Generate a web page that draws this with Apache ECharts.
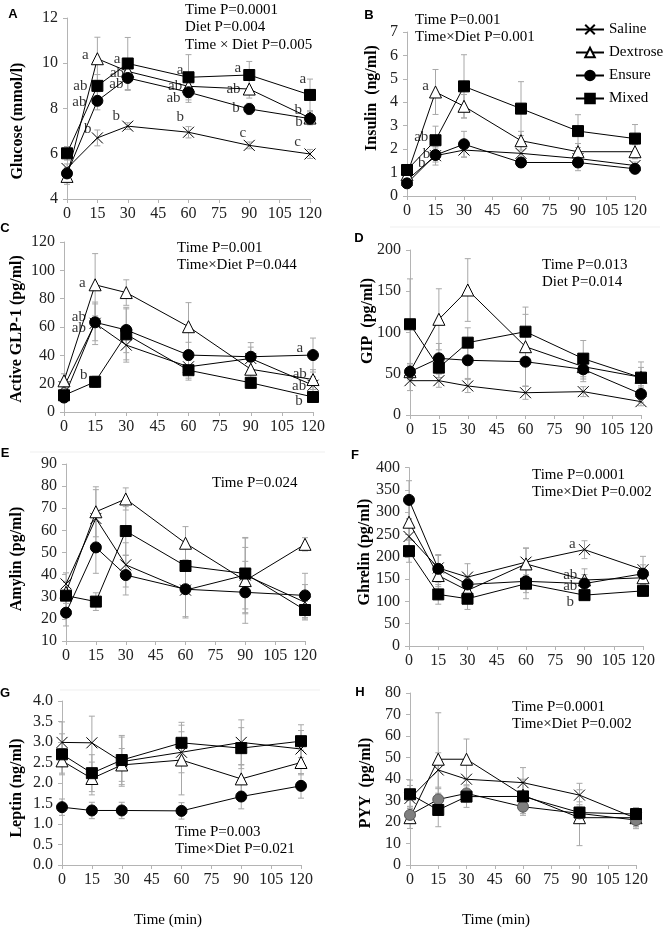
<!DOCTYPE html>
<html><head><meta charset="utf-8">
<script src="https://cdn.jsdelivr.net/npm/echarts@6/dist/echarts.min.js"></script>
<style>html,body{margin:0;padding:0;background:#fff}#c{width:666px;height:931px}</style>
</head><body><div id="c"></div>
<script>
// ---------------- DATA ----------------
const times = [0, 15, 30, 60, 90, 120];
const groups = ['Saline', 'Dextrose', 'Ensure', 'Mixed'];

// A Glucose (mmol/l)
const glucoseSaline   = [5.35, 6.7, 7.22, 6.95, 6.37, 5.99];
const glucoseDextrose = [5.0, 10.2, 9.64, 8.98, 8.86, 7.58];
const glucoseEnsure   = [5.13, 8.34, 9.35, 8.72, 7.98, 7.55];
const glucoseMixed    = [6.02, 9.0, 9.99, 9.38, 9.48, 8.6];
const glucoseErrSaline   = [0.2, 0.35, 0.15, 0.25, 0.15, 0.2];
const glucoseErrDextrose = [0.35, 0.95, 0.4, 0.5, 0.4, 0.3];
const glucoseErrEnsure   = [0.25, 0.4, 0.55, 0.45, 0.25, 0.25];
const glucoseErrMixed    = [0.3, 0.5, 1.15, 1.0, 0.6, 0.7];
const glucoseLetters = [[9.0,10.38,'a'],[6.6,9.0,'ab'],[6.1,8.29,'ab'],[10.2,7.09,'b'],
  [24.7,10.19,'a'],[24.7,9.55,'ab'],[24.4,9.1,'ab'],[24.3,7.65,'b'],
  [55.9,9.72,'a'],[53.4,9.01,'ab'],[52.6,8.45,'ab'],[55.9,7.63,'b'],
  [84.3,9.79,'a'],[82.2,8.86,'ab'],[83.5,8.02,'b'],[86.8,6.92,'c'],
  [116.4,9.3,'a'],[114.2,7.95,'b'],[114.6,7.39,'b'],[113.9,6.5,'c']];

// B Insulin (ng/ml)
const insulinSaline   = [0.68, 1.72, 1.96, 1.82, 1.6, 1.3];
const insulinDextrose = [0.9, 4.44, 3.83, 2.36, 1.89, 1.89];
const insulinEnsure   = [0.54, 1.75, 2.21, 1.43, 1.43, 1.16];
const insulinMixed    = [1.11, 2.38, 4.68, 3.73, 2.77, 2.45];
const insulinErrSaline   = [0.15, 0.4, 0.3, 0.3, 0.2, 0.15];
const insulinErrDextrose = [0.2, 0.96, 0.5, 0.4, 0.35, 0.3];
const insulinErrEnsure   = [0.1, 0.3, 0.55, 0.2, 0.35, 0.15];
const insulinErrMixed    = [0.2, 0.6, 1.35, 1.15, 0.7, 0.6];
const insulinLetters = [[9.8,4.68,'a'],[7.5,2.53,'ab'],[10.2,1.77,'b'],[7.8,1.4,'b']];

// C Active GLP-1 (pg/ml)
const glpSaline   = [18, 62.6, 47.2, 31.9, 37.8, 18.9];
const glpDextrose = [22, 89.8, 84.3, 60.2, 30.2, 22.9];
const glpEnsure   = [10.2, 63.3, 57.9, 40.2, 39, 40.2];
const glpMixed    = [11.8, 21.3, 54.8, 29.5, 20.6, 10.6];
const glpErrSaline   = [5, 15, 12, 8, 8, 6];
const glpErrDextrose = [5, 22, 9, 17, 6, 7];
const glpErrEnsure   = [3, 13, 16, 9, 10, 12];
const glpErrMixed    = [3, 4, 18, 7, 4, 3];
const glpLetters = [[8.8,91,'a'],[7.2,67.3,'ab'],[7.2,59.5,'ab'],[9.5,26,'b'],
  [113.6,45.4,'a'],[113.6,26.5,'ab'],[113.3,18.4,'ab'],[113.3,7.6,'b']];

// D GIP (pg/ml)
const gipSaline   = [41.6, 41.6, 35.2, 27, 28.3, 16.2];
const gipDextrose = [52.5, 116, 151.5, 82.8, 58.6, 45.7];
const gipEnsure   = [52.5, 68.7, 66.3, 64.6, 55.4, 25.5];
const gipMixed    = [110, 57.4, 87.7, 101, 68.3, 45.3];
const gipErrSaline   = [12, 8, 8, 8, 6, 5];
const gipErrDextrose = [10, 37, 38, 48, 15, 12];
const gipErrEnsure   = [8, 18, 22, 30, 15, 10];
const gipErrMixed    = [55, 12, 18, 21, 22, 19];

// E Amylin (pg/ml)
const amylinSaline   = [35.8, 65.4, 44.4, 33, 39.8, 27.5];
const amylinDextrose = [32, 68.4, 74.2, 54.2, 37.3, 53.7];
const amylinEnsure   = [22.8, 52.3, 39.8, 33.4, 32, 30.6];
const amylinMixed    = [30.5, 27.8, 59.7, 43.9, 40.5, 24];
const amylinErrSaline   = [5, 13, 10, 12, 17, 8];
const amylinErrDextrose = [5, 11.3, 5, 7.5, 15, 3];
const amylinErrEnsure   = [6, 11.7, 9, 13, 14, 10];
const amylinErrMixed    = [6, 4, 11, 10, 16, 4];

// F Ghrelin (pg/ml)
const ghrelinSaline   = [245.5, 175, 154.5, 188, 216, 171];
const ghrelinDextrose = [277.6, 158, 124.6, 184, 148, 153];
const ghrelinEnsure   = [327.6, 173, 138, 145, 140, 162];
const ghrelinMixed    = [212.7, 115.7, 106, 139.6, 114, 123.6];
const ghrelinErrSaline   = [40, 30, 30, 32, 20, 30];
const ghrelinErrDextrose = [40, 25, 25, 35, 25, 15];
const ghrelinErrEnsure   = [43, 30, 15, 39, 20, 20];
const ghrelinErrMixed    = [25, 22, 24, 20, 10, 12];
const ghrelinLetters = [[83.8,229.5,'a'],[82.7,160,'ab'],[82.7,134,'ab'],[82.7,97.6,'b']];

// G Leptin (ng/ml)
const leptinSaline   = [2.99, 2.98, 2.52, 2.75, 2.99, 2.83];
const leptinDextrose = [2.54, 2.11, 2.44, 2.56, 2.1, 2.5];
const leptinEnsure   = [1.41, 1.33, 1.33, 1.32, 1.67, 1.93];
const leptinMixed    = [2.7, 2.24, 2.56, 2.98, 2.85, 3.02];
const leptinErrSaline   = [0.5, 0.65, 0.6, 0.5, 0.55, 0.45];
const leptinErrDextrose = [0.3, 0.4, 0.4, 0.85, 0.35, 0.3];
const leptinErrEnsure   = [0.2, 0.2, 0.2, 0.2, 0.3, 0.3];
const leptinErrMixed    = [0.5, 0.45, 0.6, 0.5, 0.5, 0.4];

// H PYY (pg/ml)
const pyySaline   = [31, 44.2, 39.9, 38.3, 32.5, 21.7];
const pyyDextrose = [22, 49.2, 49.2, 32.5, 22, 22];
const pyyEnsure   = [23.3, 30.5, 33.3, 27.1, 24, 20.9];
const pyyMixed    = [32.9, 25.6, 31.8, 31.9, 24.4, 23.7];
const pyyErrSaline   = [6, 8, 7, 7, 5.5, 4];
const pyyErrDextrose = [5, 21.6, 9.4, 6, 13, 4];
const pyyErrEnsure   = [4, 5, 4, 4, 4, 4];
const pyyErrMixed    = [6.6, 7.8, 5, 8, 5, 3];

// ---------------- PANELS (layout) ----------------
const panels = [
  {letter:'A', title:'Glucose (mmol/l)', means:[glucoseSaline,glucoseDextrose,glucoseEnsure,glucoseMixed], errs:[glucoseErrSaline,glucoseErrDextrose,glucoseErrEnsure,glucoseErrMixed], letters:glucoseLetters,
   grid:{left:67, top:18, width:243, height:181}, y:{min:4,max:12,interval:2}, name:[17.5,121], stats:['Time P=0.0001','Diet P=0.004','Time × Diet P=0.005'], statPos:[185,10], lp:[13,14]},
  {letter:'B', title:'Insulin  (ng/ml)', means:[insulinSaline,insulinDextrose,insulinEnsure,insulinMixed], errs:[insulinErrSaline,insulinErrDextrose,insulinErrEnsure,insulinErrMixed], letters:insulinLetters,
   grid:{left:407, top:32, width:228, height:164}, y:{min:0,max:7,interval:1}, name:[372,98], stats:['Time P=0.001','Time×Diet P=0.001'], statPos:[415,20], lp:[369,15]},
  {letter:'C', title:'Active GLP-1 (pg/ml)', means:[glpSaline,glpDextrose,glpEnsure,glpMixed], errs:[glpErrSaline,glpErrDextrose,glpErrEnsure,glpErrMixed], letters:glpLetters,
   grid:{left:64, top:242, width:249, height:170}, y:{min:0,max:120,interval:20}, name:[17,329], stats:['Time P=0.001','Time×Diet P=0.044'], statPos:[177,248], lp:[5,228]},
  {letter:'D', title:'GIP  (pg/ml)', means:[gipSaline,gipDextrose,gipEnsure,gipMixed], errs:[gipErrSaline,gipErrDextrose,gipErrEnsure,gipErrMixed], letters:[],
   grid:{left:410, top:250, width:231, height:165}, y:{min:0,max:200,interval:50}, name:[368,321], stats:['Time P=0.013','Diet P=0.014'], statPos:[542,265], lp:[359,238]},
  {letter:'E', title:'Amylin (pg/ml)', means:[amylinSaline,amylinDextrose,amylinEnsure,amylinMixed], errs:[amylinErrSaline,amylinErrDextrose,amylinErrEnsure,amylinErrMixed], letters:[],
   grid:{left:66, top:464, width:239, height:177}, y:{min:10,max:90,interval:10}, name:[17,559], stats:['Time P=0.024'], statPos:[212,483], lp:[5,453]},
  {letter:'F', title:'Ghrelin (pg/ml)', means:[ghrelinSaline,ghrelinDextrose,ghrelinEnsure,ghrelinMixed], errs:[ghrelinErrSaline,ghrelinErrDextrose,ghrelinErrEnsure,ghrelinErrMixed], letters:ghrelinLetters,
   grid:{left:409, top:467.6, width:234, height:178.4}, y:{min:0,max:400,interval:50}, name:[365,552], stats:['Time P=0.0001','Time×Diet P=0.002'], statPos:[532,475], lp:[355,455]},
  {letter:'G', title:'Leptin (ng/ml)', means:[leptinSaline,leptinDextrose,leptinEnsure,leptinMixed], errs:[leptinErrSaline,leptinErrDextrose,leptinErrEnsure,leptinErrMixed], letters:[],
   grid:{left:62, top:701, width:239, height:164}, y:{min:0,max:4,interval:0.5,dec:1}, name:[17,788], stats:['Time P=0.003','Time×Diet P=0.021'], statPos:[175,832], lp:[5,693]},
  {letter:'H', title:'PYY  (pg/ml)', means:[pyySaline,pyyDextrose,pyyEnsure,pyyMixed], errs:[pyyErrSaline,pyyErrDextrose,pyyErrEnsure,pyyErrMixed], letters:[],
   grid:{left:410, top:693, width:226, height:172}, y:{min:0,max:80,interval:10}, name:[366,783], stats:['Time P=0.0001','Time×Diet P=0.002'], statPos:[512,707], lp:[360,692], grayEnsure:true}
];

const SERIF = '"Liberation Serif", "Times New Roman", serif';
const AXC = '#b4b4b4';
const symbols = [
  {symbol:'path://M0,0L10,10M10,0L0,10', size:11, fill:'transparent'},
  {symbol:'triangle', size:12, fill:'#fff'},
  {symbol:'circle', size:11, fill:'#000'},
  {symbol:'rect', size:11, fill:'#000'}
];

const grids = [], xAxes = [], yAxes = [], series = [], graphics = [];
panels.forEach((p, i) => {
  grids.push(Object.assign({containLabel:false}, p.grid));
  xAxes.push({type:'value', gridIndex:i, min:0, max:120, interval:15,
    axisLine:{lineStyle:{color:AXC}}, axisTick:{show:true, length:4, lineStyle:{color:AXC}},
    axisLabel:{fontFamily:SERIF, fontSize:16, color:'#222', margin:7}, splitLine:{show:false}});
  yAxes.push({type:'value', gridIndex:i, min:p.y.min, max:p.y.max, interval:p.y.interval,
    axisLine:{show:true, lineStyle:{color:AXC}}, axisTick:{show:true, length:4, lineStyle:{color:AXC}},
    axisLabel:{fontFamily:SERIF, fontSize:16, color:'#222', margin:9,
      formatter: v => p.y.dec ? v.toFixed(p.y.dec) : String(v)}, splitLine:{show:false}});
  // error bars
  groups.forEach((g, k) => {
    const data = times.map((t, j) => [t, p.means[k][j] - p.errs[k][j], p.means[k][j] + p.errs[k][j]]);
    series.push({type:'custom', xAxisIndex:i, yAxisIndex:i, z:1, silent:true, clip:false,
      data, renderItem:(params, api) => {
        const x = api.value(0);
        const a = api.coord([x, api.value(1)]), b = api.coord([x, api.value(2)]);
        const w = 3, st = {stroke:'#a8a8a8', lineWidth:1};
        return {type:'group', children:[
          {type:'line', shape:{x1:a[0], y1:a[1], x2:b[0], y2:b[1]}, style:st},
          {type:'line', shape:{x1:a[0]-w, y1:a[1], x2:a[0]+w, y2:a[1]}, style:st},
          {type:'line', shape:{x1:b[0]-w, y1:b[1], x2:b[0]+w, y2:b[1]}, style:st}]};
      }});
  });
  // lines
  groups.forEach((g, k) => {
    const s = symbols[k];
    let fill = s.fill;
    if (p.grayEnsure && k === 2) fill = '#7f7f7f';
    series.push({type:'line', name:g, xAxisIndex:i, yAxisIndex:i, z:3,
      data: times.map((t, j) => [t, p.means[k][j]]),
      symbol:s.symbol, symbolSize:s.size, showAllSymbol:true,
      lineStyle:{color:'#000', width:1},
      itemStyle:{color:fill, borderColor:(p.grayEnsure && k===2)?'#555':'#000', borderWidth:1},
      emphasis:{disabled:true}, animation:false});
  });
  // significance letters
  if (p.letters.length) {
    series.push({type:'scatter', xAxisIndex:i, yAxisIndex:i, z:4, silent:true,
      data:p.letters, symbolSize:1, itemStyle:{color:'transparent'},
      label:{show:true, position:'inside', formatter:d => d.value[2], fontFamily:SERIF, fontSize:15, color:'#000'}});
  }
  // axis title
  graphics.push({type:'text', x:p.name[0], y:p.name[1], rotation:Math.PI/2,
    style:{text:p.title, font:'bold 16px ' + SERIF, fill:'#000', textAlign:'center', textVerticalAlign:'middle'}});
  // stats text
  p.stats.forEach((t, m) => graphics.push({type:'text', x:p.statPos[0], y:p.statPos[1] + m*17.5,
    style:{text:t, font:'15px ' + SERIF, fill:'#000', textAlign:'left', textVerticalAlign:'middle'}}));
  // panel letter
  graphics.push({type:'text', x:p.lp[0], y:p.lp[1],
    style:{text:p.letter, font:'bold 13px "Liberation Sans", Arial, sans-serif', fill:'#000', textAlign:'center', textVerticalAlign:'middle'}});
});
// x-axis titles
[[168,920],[496,920]].forEach(pt => graphics.push({type:'text', x:pt[0], y:pt[1],
  style:{text:'Time (min)', font:'15px ' + SERIF, fill:'#000', textAlign:'center', textVerticalAlign:'middle'}}));
// faint panel separators
[[390,227,660],[30,452,325],[60,690,320]].forEach(l => graphics.push({type:'line',
  shape:{x1:l[0], y1:l[1], x2:l[2], y2:l[1]}, style:{stroke:'#efefef', lineWidth:1}}));

const chart = echarts.init(document.getElementById('c'), null, {renderer:'canvas'});
chart.setOption({
  backgroundColor:'#fff', animation:false,
  grid:grids, xAxis:xAxes, yAxis:yAxes, series, graphic:graphics,
  legend:{data:groups, orient:'vertical', left:570, top:17, itemWidth:28, itemHeight:12, itemGap:8,
    textStyle:{fontFamily:SERIF, fontSize:15, color:'#000'}, selectedMode:false}
});
</script></body></html>
